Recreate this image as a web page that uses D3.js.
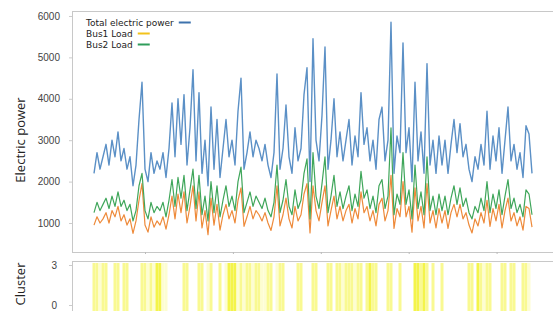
<!DOCTYPE html>
<html>
<head>
<meta charset="utf-8">
<script src="https://cdn.jsdelivr.net/npm/d3@7"></script>
<style>
  body { margin: 0; background: #fff; }
  svg { display: block; font-family: "Open Sans", "Noto Sans", sans-serif; }
  .tick text { fill: #444; font-size: 10px; }
</style>
</head>
<body>
<div id="chart"></div>
<script>
var width = 553,
    height = 311;

// total electric power, one value per time step
var total = [
  2200, 2700, 2300, 2600, 2900, 2400, 3000, 2600, 3200, 2500,
  2800, 2300, 2600, 1900, 2400, 3500, 4400, 2300, 2000, 2700,
  2200, 2500, 2300, 2700, 2100, 2800, 3900, 2600, 4000, 2900,
  4100, 2400, 3300, 4700, 2500, 4150, 2200, 3000, 1900, 3800,
  2300, 3500, 2100, 2800, 3500, 2600, 3000, 2400, 3700, 4500,
  2300, 2700, 3200, 2600, 3000, 2800, 2500, 2900, 2400, 2100,
  2700, 4600, 2300, 2800, 3850, 2600, 2200, 3300, 2500, 2800,
  4100, 4750, 2000, 5450, 3000, 2500, 3600, 5250, 2300, 3000,
  4000, 2600, 3200, 2500, 3000, 3500, 2400, 3100, 2600, 4150,
  2900, 3300, 2500, 3000, 2300, 3500, 3800, 2500, 3000, 5850,
  2200, 3100, 2700, 5350, 2700, 3300, 2000, 4400, 2500, 3200,
  2200, 4850, 2400, 3000, 2200, 3100, 2400, 3000, 2200, 2900,
  3500, 2700, 3400, 2600, 2900, 2300, 2000, 2600, 2300, 2900,
  2400, 3700, 2300, 3100, 2500, 3300, 2200, 3000, 3800, 2500,
  2900, 2300, 2700, 2100, 3350, 3150, 2200
];

var bus1 = [
   950, 1150, 1000, 1100, 1250, 1000, 1300, 1150, 1400, 1050,
  1200,  950, 1100,  750, 1050, 1550, 1950,  950,  780, 1150,
   900, 1050,  950, 1150,  850, 1200, 1650, 1100, 1700, 1250,
  1750, 1000, 1400, 1900, 1050, 1750,  880, 1300,  720, 1600,
   950, 1450,  830, 1200, 1450, 1100, 1300, 1000, 1550, 1850,
   920, 1150, 1400, 1100, 1300, 1200, 1050, 1250, 1000,  820,
  1150, 1900,  930, 1200, 1600, 1100,  880, 1400, 1050, 1200,
  1700, 1950,  760, 1900, 1300, 1050, 1500, 1900,  930, 1300,
  1650, 1100, 1400, 1050, 1300, 1450, 1000, 1350, 1100, 1750,
  1250, 1400, 1050, 1300,  930, 1450, 1600, 1050, 1300, 2150,
   870, 1350, 1150, 2000, 1150, 1400,  780, 1850, 1050, 1400,
   880, 1950, 1000, 1300,  880, 1350, 1000, 1300,  870, 1250,
  1450, 1150, 1450, 1100, 1250,  950,  760, 1100,  930, 1250,
  1000, 1550,  920, 1350, 1050, 1450,  880, 1300, 1600, 1050,
  1250,  930, 1150,  830, 1400, 1350,  900
];

var bus2 = [
  1250, 1500, 1300, 1450, 1600, 1350, 1650, 1400, 1750, 1400,
  1550, 1300, 1450, 1050, 1300, 1900, 2200, 1300, 1100, 1500,
  1250, 1400, 1300, 1500, 1150, 1550, 2050, 1400, 2100, 1600,
  2150, 1300, 1800, 2300, 1350, 2150, 1200, 1650, 1050, 2000,
  1250, 1900, 1150, 1550, 1900, 1400, 1650, 1300, 2000, 2350,
  1250, 1500, 1750, 1400, 1650, 1500, 1350, 1600, 1300, 1150,
  1500, 2400, 1250, 1550, 2050, 1400, 1200, 1800, 1350, 1550,
  2200, 2550, 1100, 2700, 1650, 1350, 1950, 2600, 1250, 1650,
  2150, 1400, 1750, 1350, 1650, 1900, 1300, 1700, 1400, 2250,
  1600, 1800, 1350, 1650, 1250, 1900, 2050, 1350, 1650, 3300,
  1200, 1700, 1450, 2700, 1450, 1800, 1100, 2400, 1350, 1750,
  1200, 2600, 1300, 1650, 1200, 1700, 1300, 1650, 1200, 1600,
  1900, 1450, 1850, 1400, 1600, 1250, 1100, 1400, 1250, 1600,
  1300, 2000, 1250, 1700, 1350, 1800, 1200, 1650, 2050, 1350,
  1600, 1250, 1450, 1150, 1800, 1700, 1200
];

// cluster label per time step (0 = none, 3 = strongest)
var cluster = [
  2, 2, 1, 2, 2, 0, 0, 2, 2, 0,
  2, 2, 0, 0, 0, 0, 2, 2, 1, 2,
  1, 3, 3, 1, 1, 0, 0, 0, 0, 0,
  2, 2, 0, 0, 0, 2, 2, 0, 1, 2,
  0, 0, 2, 0, 1, 3, 3, 3, 1, 2,
  1, 2, 2, 1, 2, 2, 1, 1, 2, 2,
  0, 1, 2, 2, 0, 0, 0, 0, 2, 2,
  0, 0, 0, 2, 2, 0, 0, 0, 2, 2,
  0, 2, 2, 1, 2, 2, 2, 1, 2, 2,
  0, 2, 3, 2, 2, 0, 0, 0, 2, 2,
  0, 0, 2, 0, 0, 0, 0, 3, 3, 2,
  3, 2, 0, 2, 0, 0, 2, 0, 0, 0,
  0, 0, 0, 0, 0, 2, 2, 0, 3, 2,
  1, 2, 2, 0, 0, 0, 2, 2, 0, 2,
  2, 0, 0, 2, 2, 1, 0
];

var powerTicks = [1000, 2000, 3000, 4000, 5000, 6000],
    clusterTicks = [0, 3],
    timeTicks = [17, 46.3, 75.6, 104.9, 134.2];

var legendItems = ["Total electric power", "Bus1 Load", "Bus2 Load"],
    legendColors = ["#3d72ad", "#f2c21b", "#2f9d5a"];

var svg = d3.select("#chart").append("svg")
    .attr("width", width)
    .attr("height", height);

var left = 72, right = 558,
    top1 = 11, bottom1 = 252,
    top2 = 261, bottom2 = 316;

var x = d3.scaleLinear()
    .domain([0, total.length - 1])
    .range([94, 532]);

var y = d3.scaleLinear()
    .domain([300, 6120])
    .range([bottom1, top1]);

var yc = d3.scaleLinear()
    .domain([0, 3])
    .range([305, 265]);

// frames
svg.append("rect")
    .attr("x", left + 0.5).attr("y", top1 + 0.5)
    .attr("width", right - left).attr("height", bottom1 - top1)
    .attr("fill", "none").attr("stroke", "#c8c8c8");

svg.append("rect")
    .attr("x", left + 0.5).attr("y", top2 + 0.5)
    .attr("width", right - left).attr("height", bottom2 - top2)
    .attr("fill", "none").attr("stroke", "#c8c8c8");

// cluster bands
var clusterColor = ["none", "#fdfdd2", "#f9f992", "#f4f44a"];
var step = x(1) - x(0);

svg.append("g").selectAll("rect")
    .data(cluster.map(function(c, i) { return {i: i, c: c}; }).filter(function(d) { return d.c > 0; }))
    .enter().append("rect")
      .attr("x", function(d) { return x(d.i) - step / 2; })
      .attr("y", top2 + 2)
      .attr("width", step)
      .attr("height", bottom2 - top2)
      .attr("fill", function(d) { return clusterColor[d.c]; });

// axes
var yAxis = d3.axisLeft(y).tickValues(powerTicks).tickSize(3).tickPadding(9)
    .tickFormat(d3.format("d"));
var gy = svg.append("g")
    .attr("transform", "translate(" + left + ",0)")
    .call(yAxis);
gy.select(".domain").remove();
gy.selectAll(".tick line").attr("stroke", "#ccc");

var cAxis = d3.axisLeft(yc).tickValues(clusterTicks).tickSize(3).tickPadding(12)
    .tickFormat(d3.format("d"));
var gc = svg.append("g")
    .attr("transform", "translate(" + left + ",0)")
    .call(cAxis);
gc.select(".domain").remove();
gc.selectAll(".tick line").attr("stroke", "#ccc");
gc.selectAll(".tick text").attr("font-size", "9px");

var gx = svg.append("g")
    .attr("transform", "translate(0," + bottom1 + ")")
    .call(d3.axisBottom(x).tickValues(timeTicks).tickSize(2).tickFormat(""));
gx.select(".domain").remove();
gx.selectAll(".tick line").attr("stroke", "#bbb");

// axis titles
svg.append("text")
    .attr("transform", "translate(25,140)rotate(-90)")
    .attr("text-anchor", "middle")
    .attr("font-size", "13px")
    .attr("fill", "#222")
    .text("Electric power");

svg.append("text")
    .attr("transform", "translate(25,284)rotate(-90)")
    .attr("text-anchor", "middle")
    .attr("font-size", "13px")
    .attr("fill", "#222")
    .text("Cluster");

// lines
var line = d3.line()
    .x(function(d, i) { return x(i); })
    .y(function(d) { return y(d); });

svg.append("path")
    .datum(total)
    .attr("fill", "none")
    .attr("stroke", "#5b90c6")
    .attr("stroke-width", 1.4)
    .attr("stroke-linejoin", "round")
    .attr("d", line);

svg.append("path")
    .datum(bus1)
    .attr("fill", "none")
    .attr("stroke", "#ee8a3a")
    .attr("stroke-width", 1.2)
    .attr("stroke-linejoin", "round")
    .attr("d", line);

svg.append("path")
    .datum(bus2)
    .attr("fill", "none")
    .attr("stroke", "#3fa65a")
    .attr("stroke-width", 1.2)
    .attr("stroke-linejoin", "round")
    .attr("d", line);

// legend
var legend = svg.append("g")
    .attr("transform", "translate(86,25.5)");

legendItems.forEach(function(name, i) {
  var t = legend.append("text")
      .attr("y", i * 11)
      .attr("font-family", "DejaVu Sans, sans-serif")
      .attr("font-size", "9px")
      .attr("fill", "#222")
      .text(name);
  var w = t.node().getComputedTextLength();
  legend.append("line")
      .attr("x1", w + 5).attr("x2", w + 17)
      .attr("y1", i * 11 - 3).attr("y2", i * 11 - 3)
      .attr("stroke", legendColors[i])
      .attr("stroke-width", 2);
});
</script>
</body>
</html>
